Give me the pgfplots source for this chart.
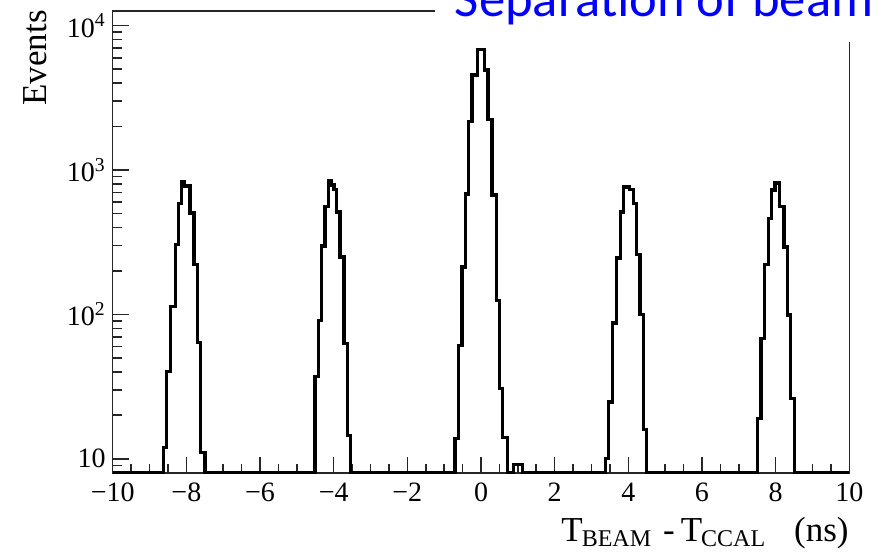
\documentclass[border=0pt]{standalone}
\usepackage{fontspec}
\setmainfont{Liberation Serif}
\newfontfamily\titlefont{Carlito}
\usepackage{pgfplots}
\pgfplotsset{compat=1.18}

\pgfplotstableread{
x y
-10 8
-8.63 12
-8.53 40
-8.44 114
-8.29 306
-8.22 587
-8.13 828
-8.045 776
-7.90 505
-7.79 222
-7.69 64
-7.61 11
-7.49 8
-4.507 37
-4.417 91
-4.326 297
-4.236 556
-4.135 841
-4.054 786
-3.99 733
-3.92 513
-3.83 250
-3.72 63
-3.63 14.5
-3.55 8
-0.71 13.8
-0.62 61
-0.515 213
-0.425 681
-0.334 2157
-0.244 4550
-0.10 6850
0.10 4930
0.19 2243
0.30 670
0.416 125
0.508 30.5
0.59 14
0.72 8
0.88 9.1
1.12 8
3.386 10
3.458 24.7
3.566 87
3.685 246
3.793 513
3.864 764
4.027 733
4.136 587
4.227 261
4.317 100
4.407 16
4.499 8
7.51 18.9
7.60 68
7.69 222
7.80 461
7.89 726
7.98 815
8.11 556
8.23 293
8.33 99
8.41 26
8.52 8
10 8
}\histdata

\begin{document}
\begin{tikzpicture}
\useasboundingbox (-56.35pt,-39.15pt) rectangle (387.15pt,236.35pt);
\clip (-56.35pt,-39.15pt) rectangle (387.15pt,236.35pt);
\begin{axis}[
  at={(0pt,0pt)}, anchor=south west,
  width=368.3pt, height=231pt, scale only axis,
  xmin=-10, xmax=10,
  ymode=log, ymin=8, ymax=12700,
  axis line style={black!85, line width=0.8pt},
  tick style={black!85, line width=0.8pt},
  tick align=inside,
  xtick pos=left, ytick pos=left,
  major tick length=8pt, minor tick length=4.5pt,
  xtick={-10,-8,-6,-4,-2,0,2,4,6,8,10},
  minor x tick num=3,
  xticklabels={−10,−8,−6,−4,−2,0,2,4,6,8,10},
  ytick={10,100,1000,10000},
  yticklabels={10,10\textsuperscript{2},10\textsuperscript{3},10\textsuperscript{4}},
  minor ytick={9,20,30,40,50,60,70,80,90,200,300,400,500,600,700,800,900,2000,3000,4000,5000,6000,7000,8000,9000},
  ticklabel style={font=\fontsize{14}{16}\selectfont},
  xticklabel style={yshift=-1.5pt},
  yticklabel style={xshift=0pt},
  clip=false,
]
\addplot[const plot, black, line width=1.65pt] table[x=x, y=y] {\histdata};
\end{axis}
\fill[white] (161.15pt,215.35pt) rectangle (400pt,250pt);
\node[anchor=base west, inner sep=0pt, text=blue, font=\titlefont\fontsize{26.3}{30}\selectfont] at (170.9pt,228pt) {Separation of beam};
\node[rotate=90, anchor=base east, inner sep=0pt, font=\fontsize{17.5}{20}\selectfont] at (-32.85pt,231.35pt) {Events};
\node[anchor=base east, inner sep=0pt, font=\fontsize{17.5}{20}\selectfont] at (368.15pt,-34.5pt)
  {T\kern-0.5pt\raisebox{-2.5pt}{\fontsize{12}{14}\selectfont BEAM}\hspace{6pt}-\hspace{3pt}T\kern-0.5pt\raisebox{-2.5pt}{\fontsize{12}{14}\selectfont CCAL}\hspace{14.5pt}(ns)};
\end{tikzpicture}
\end{document}
